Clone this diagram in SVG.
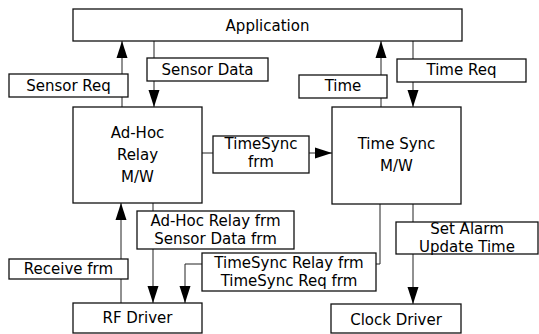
<svg xmlns="http://www.w3.org/2000/svg" width="539" height="334" viewBox="0 0 539 334">
<style>
.box{fill:#fff;stroke:#111;stroke-width:1.3}
.ln{fill:none;stroke:#222;stroke-width:1}
text{font-family:"DejaVu Sans",sans-serif;font-size:15px;fill:#000;text-anchor:middle}
</style>
<defs>
<marker id="ah" markerUnits="userSpaceOnUse" markerWidth="18" markerHeight="12" refX="17" refY="5.5" orient="auto" viewBox="0 0 18 11">
<path d="M0,0 L17,5.5 L0,11 z" fill="#000"/>
</marker>
</defs>
<rect width="539" height="334" fill="#fff"/>
<g id="connectors">
<line class="ln" x1="122" y1="107" x2="122" y2="41" marker-end="url(#ah)"/>
<line class="ln" x1="154" y1="41" x2="154" y2="107" marker-end="url(#ah)"/>
<line class="ln" x1="381" y1="107" x2="381" y2="41" marker-end="url(#ah)"/>
<line class="ln" x1="413" y1="41" x2="413" y2="107" marker-end="url(#ah)"/>
<line class="ln" x1="202" y1="153" x2="332" y2="153" marker-end="url(#ah)"/>
<line class="ln" x1="121" y1="303" x2="121" y2="203" marker-end="url(#ah)"/>
<line class="ln" x1="153" y1="203" x2="153" y2="303" marker-end="url(#ah)"/>
<path class="ln" d="M380,204 V264 H185 V303" marker-end="url(#ah)"/>
<line class="ln" x1="413" y1="204" x2="413" y2="304" marker-end="url(#ah)"/>
<g id="labels">
<rect class="box" x="9" y="74" width="119" height="23"/>
<text x="68.5" y="91">Sensor Req</text>
<rect class="box" x="147" y="58" width="121" height="23"/>
<text x="207.5" y="75">Sensor Data</text>
<rect class="box" x="299" y="75" width="88" height="23"/>
<text x="343" y="91">Time</text>
<rect class="box" x="397" y="59" width="129" height="23"/>
<text x="461.5" y="75">Time Req</text>
<rect class="box" x="213" y="136" width="96" height="37"/>
<text x="261" y="149">TimeSync</text>
<text x="261" y="167">frm</text>
<rect class="box" x="9" y="259" width="119" height="20"/>
<text x="68.5" y="274">Receive frm</text>
<rect class="box" x="137" y="211" width="157" height="38"/>
<text x="215.5" y="226">Ad-Hoc Relay frm</text>
<text x="215.5" y="244">Sensor Data frm</text>
<rect class="box" x="202" y="253" width="174" height="38"/>
<text x="289" y="268">TimeSync Relay frm</text>
<text x="289" y="286">TimeSync Req frm</text>
<rect class="box" x="396" y="222" width="142" height="32"/>
<text x="467" y="234">Set Alarm</text>
<text x="467" y="252">Update Time</text>
</g>
</g>
<g id="application">
<rect class="box" x="73" y="9" width="389" height="32"/>
<text x="267.5" y="31">Application</text>
</g>
<g id="adhoc">
<rect class="box" x="73" y="107" width="129" height="96"/>
<text x="137.5" y="138">Ad-Hoc</text>
<text x="137.5" y="160">Relay</text>
<text x="137.5" y="182">M/W</text>
</g>
<g id="timesync">
<rect class="box" x="332" y="107" width="129" height="97"/>
<text x="396.5" y="149">Time Sync</text>
<text x="396.5" y="171">M/W</text>
</g>
<g id="rfdriver">
<rect class="box" x="73" y="303" width="129" height="30"/>
<text x="137.5" y="323">RF Driver</text>
</g>
<g id="clockdriver">
<rect class="box" x="331" y="304" width="130" height="29"/>
<text x="396" y="325">Clock Driver</text>
</g>
</svg>
